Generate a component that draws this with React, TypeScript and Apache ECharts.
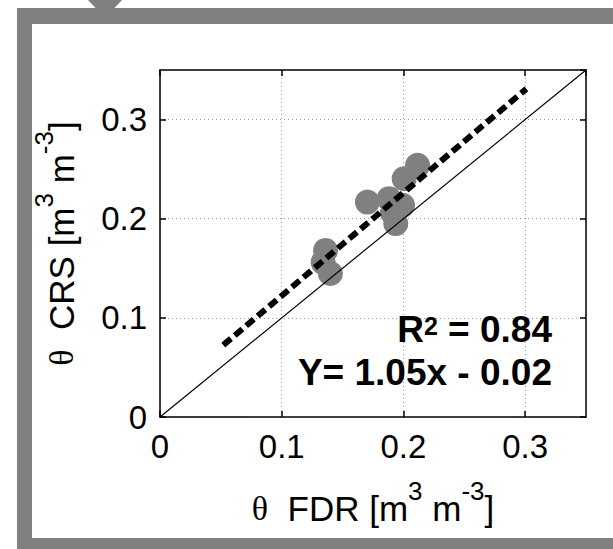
import React, { useEffect, useRef } from "react";
import * as echarts from "echarts";

// θ FDR (x) and θ CRS (y) observations [m3 m-3]
const fdr = [0.2116, 0.2006, 0.1704, 0.1882, 0.1993, 0.1937, 0.191, 0.136, 0.134, 0.14];
const crs = [0.2538, 0.2404, 0.2168, 0.2202, 0.2135, 0.1951, 0.206, 0.168, 0.156, 0.1447];
const oneToOneLine = [
  [0, 0],
  [0.35, 0.35],
];
const fitLine = [
  [0.052, 0.0725],
  [0.301, 0.331],
];
const axisMin = 0;
const axisMax = 0.35;
const tickStep = 0.1;
const r2Value = "0.84";
const equationText = "Y= 1.05x - 0.02";

const SANS = '"Liberation Sans", Arial, Helvetica, sans-serif';
const SERIF = '"Liberation Serif", "Times New Roman", serif';

const nameRich: any = {
  t: { fontFamily: SERIF, fontSize: 34, lineHeight: 60, color: "#000" },
  n: { fontFamily: SANS, fontSize: 35, lineHeight: 60, color: "#000" },
  s: { fontFamily: SANS, fontSize: 26, lineHeight: 26, verticalAlign: "top", color: "#000" },
};

const xName = "{t|θ}{n|  FDR [m}{s|3}{n| m}{s|-3}{n|]}";
const yName = "{t|θ}{n|  CRS [m}{s|3}{n| m}{s|-3}{n|]}";

export default function App() {
  const ref = useRef<HTMLDivElement>(null);
  useEffect(() => {
    if (!ref.current) return;
    const chart = echarts.init(ref.current, null, { renderer: "svg" });
    const GREY = "#808080";
    const mainAxis = (isX: boolean) => ({
      type: "value",
      min: axisMin,
      max: axisMax,
      interval: tickStep,
      position: isX ? "bottom" : "left",
      name: isX ? xName : yName,
      nameLocation: "middle",
      nameGap: isX ? 61 : 69,
      nameRotate: isX ? 0 : 90,
      nameTextStyle: { rich: nameRich },
      axisLine: { show: true, onZero: false, lineStyle: { color: "#000", width: 1.5 } },
      axisTick: { show: true, inside: true, length: 6, lineStyle: { color: "#000", width: 1.5 } },
      axisLabel: {
        show: true,
        margin: 13,
        fontSize: 33,
        fontFamily: SANS,
        color: "#000",
        showMaxLabel: false,
      },
      splitLine: { show: true, lineStyle: { color: "#999", width: 1, type: [1, 3] } },
    });
    const sideAxis = (isX: boolean) => ({
      type: "value",
      min: axisMin,
      max: axisMax,
      interval: tickStep,
      position: isX ? "top" : "right",
      axisLine: { show: true, onZero: false, lineStyle: { color: "#000", width: 1.5 } },
      axisTick: { show: true, inside: true, length: 6, lineStyle: { color: "#000", width: 1.5 } },
      axisLabel: { show: false },
      splitLine: { show: false },
    });
    chart.setOption({
      animation: false,
      backgroundColor: "#fff",
      grid: { left: 160, top: 70, width: 426, height: 347 },
      xAxis: [mainAxis(true), sideAxis(true)],
      yAxis: [mainAxis(false), sideAxis(false)],
      series: [
        {
          type: "scatter",
          data: fdr.map((x, i) => [x, crs[i]]),
          symbolSize: 25,
          itemStyle: { color: GREY, opacity: 1 },
          silent: true,
          z: 2,
        },
        {
          type: "line",
          data: oneToOneLine,
          symbol: "none",
          lineStyle: { color: "#000", width: 1.2 },
          silent: true,
          z: 3,
        },
        {
          type: "line",
          data: fitLine,
          symbol: "none",
          lineStyle: { color: "#000", width: 6, type: [10, 5], cap: "butt" },
          silent: true,
          z: 4,
        },
      ],
      graphic: [
        { type: "rect", shape: { x: 17, y: 8, width: 15, height: 541 }, style: { fill: GREY } },
        { type: "rect", shape: { x: 17, y: 8, width: 596, height: 16 }, style: { fill: GREY } },
        { type: "rect", shape: { x: 17, y: 538, width: 596, height: 11 }, style: { fill: GREY } },
        {
          type: "polygon",
          shape: { points: [[88, 0], [122, 0], [105, 18]] },
          style: { fill: GREY },
        },
        {
          type: "text",
          x: 552,
          y: 329,
          z: 10,
          style: {
            text: "{b|R}{s|2}{b| = " + r2Value + "}",
            align: "right",
            verticalAlign: "middle",
            rich: {
              b: { fontSize: 37, fontWeight: "bold", fontFamily: SANS, lineHeight: 31, fill: "#000" },
              s: { fontSize: 25, fontWeight: "bold", fontFamily: SANS, lineHeight: 25, verticalAlign: "top", fill: "#000" },
            },
          },
        },
        {
          type: "text",
          x: 552,
          y: 372,
          z: 10,
          style: {
            text: equationText,
            fontSize: 37,
            fontWeight: "bold",
            fontFamily: SANS,
            fill: "#000",
            align: "right",
            verticalAlign: "middle",
          },
        },
      ],
    });
    return () => chart.dispose();
  }, []);
  return (
    <div
      ref={ref}
      style={{ position: "absolute", left: 0, top: 0, width: 613, height: 549 }}
    />
  );
}
